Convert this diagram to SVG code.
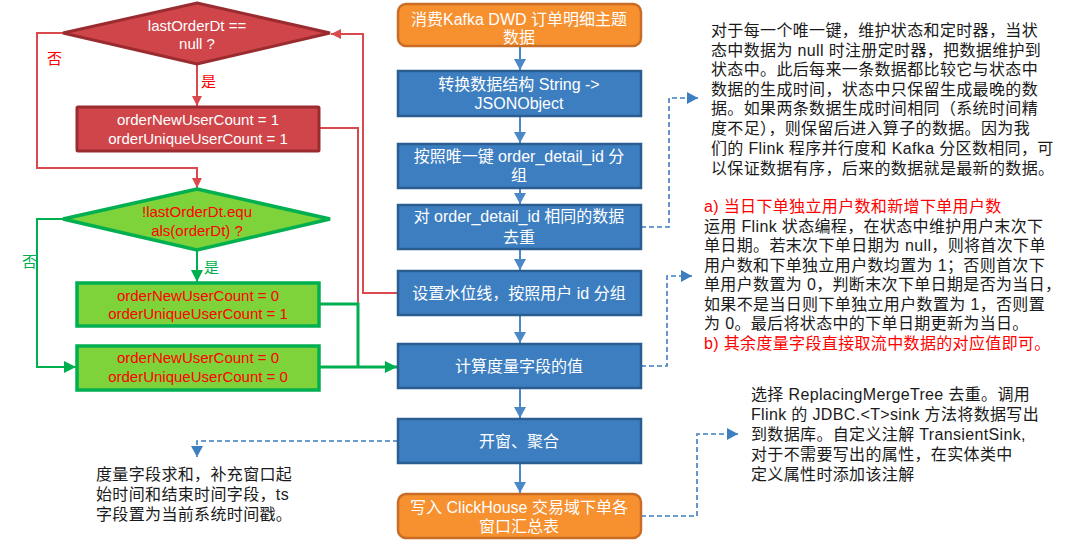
<svg xmlns="http://www.w3.org/2000/svg" width="1078" height="552" viewBox="0 0 1078 552">
<defs>
<style>
text{font-family:"Liberation Sans","Noto Sans CJK SC",sans-serif;}
.wt{fill:#ffffff;font-size:16px;text-anchor:middle;}
.lt{fill:#ffffff;font-size:15px;text-anchor:middle;}
.rt{fill:#ff0000;font-size:15px;text-anchor:middle;}
.bx{fill:#3d7ec0;stroke:#2b5e90;stroke-width:2.5;}
.ob{fill:#f7902f;stroke:#c86c26;stroke-width:2.5;}
.rd{fill:#cf454a;stroke:#9a2c30;stroke-width:3;}
.gr{fill:#7ed23a;stroke:#00b050;stroke-width:3.5;}
.note{fill:#1a1a1a;font-size:16px;letter-spacing:0.35px;}
.red{fill:#ff0000;}
.cr{fill:none;stroke:#d9494e;stroke-width:2;}
.cg{fill:none;stroke:#00b050;stroke-width:2;}
.cb{fill:none;stroke:#4a88c7;stroke-width:2;}
.cd{fill:none;stroke:#3d7ec0;stroke-width:1.6;stroke-dasharray:5,3;}
</style>
<marker id="ar" markerUnits="userSpaceOnUse" markerWidth="12" markerHeight="12" refX="10" refY="5" orient="auto"><path d="M0,0 L10,5 L0,10 z" fill="#d9494e"/></marker>
<marker id="ag" markerUnits="userSpaceOnUse" markerWidth="14" markerHeight="14" refX="12" refY="6" orient="auto"><path d="M0,0 L12,6 L0,12 z" fill="#00b050"/></marker>
<marker id="ab" markerUnits="userSpaceOnUse" markerWidth="14" markerHeight="14" refX="11" refY="6" orient="auto"><path d="M0,0 L11,6 L0,12 z" fill="#4a88c7"/></marker>
<marker id="ad" markerUnits="userSpaceOnUse" markerWidth="14" markerHeight="14" refX="11" refY="6" orient="auto"><path d="M0,0 L11,6 L0,12 z" fill="#3d7ec0"/></marker>
</defs>

<g id="connectors">
<path class="cr" d="M197,64 V106" marker-end="url(#ar)"/>
<path class="cr" d="M63,33 H37 V168 H197 V188" marker-end="url(#ar)"/>
<path class="cr" d="M319,128 H358 V304"/>
<path class="cr" d="M398,293 H363 V34 H331" marker-end="url(#ar)"/>
<path class="cg" d="M197,250 V282" marker-end="url(#ag)"/>
<path class="cg" d="M63,219 H37 V367 H76" marker-end="url(#ag)"/>
<path class="cg" style="stroke-width:3" d="M319,304 H358 V367"/>
<path class="cg" style="stroke-width:3" d="M319,367 H397" marker-end="url(#ag)"/>
<path class="cb" d="M520,46 V70" marker-end="url(#ab)"/>
<path class="cb" d="M520,116 V143" marker-end="url(#ab)"/>
<path class="cb" d="M520,188 V204" marker-end="url(#ab)"/>
<path class="cb" d="M520,249 V270" marker-end="url(#ab)"/>
<path class="cb" d="M520,315 V343" marker-end="url(#ab)"/>
<path class="cb" d="M520,388 V418" marker-end="url(#ab)"/>
<path class="cb" d="M520,463 V493" marker-end="url(#ab)"/>
<path class="cd" d="M641,227 H669 V98 H698" marker-end="url(#ad)"/>
<path class="cd" d="M641,366 H667 V276 H692" marker-end="url(#ad)"/>
<path class="cd" d="M641,516 H697 V434 H738" marker-end="url(#ad)"/>
<path class="cd" d="M398,441 H197 V457" marker-end="url(#ad)"/>
</g>

<g id="cond1">
<polygon class="rd" points="197,3 330,33 197,64 63,33"/>
<text class="lt" x="197" y="31">lastOrderDt ==</text>
<text class="lt" x="197" y="49">null ?</text>
</g>
<g id="label-no1"><text x="47" y="64" style="fill:#ff0000;font-size:15px">否</text></g>
<g id="label-yes1"><text x="201" y="87" style="fill:#ff0000;font-size:15px">是</text></g>

<g id="set1">
<rect class="rd" x="77" y="107" width="242" height="44" rx="1"/>
<text class="lt" x="198" y="125">orderNewUserCount = 1</text>
<text class="lt" x="198" y="144">orderUniqueUserCount = 1</text>
</g>

<g id="cond2">
<polygon class="gr" points="197,189 330,219 197,250 63,219"/>
<text class="rt" x="197" y="217">!lastOrderDt.equ</text>
<text class="rt" x="197" y="236">als(orderDt) ?</text>
</g>
<g id="label-no2"><text x="22" y="267" style="fill:#00b050;font-size:15px">否</text></g>
<g id="label-yes2"><text x="204" y="273" style="fill:#00b050;font-size:15px">是</text></g>

<g id="set2">
<rect class="gr" x="77" y="283" width="242" height="43"/>
<text class="rt" x="198" y="301">orderNewUserCount = 0</text>
<text class="rt" x="198" y="319">orderUniqueUserCount = 1</text>
</g>

<g id="set3">
<rect class="gr" x="77" y="346" width="242" height="44"/>
<text class="rt" x="198" y="363">orderNewUserCount = 0</text>
<text class="rt" x="198" y="382">orderUniqueUserCount = 0</text>
</g>

<g id="step1">
<rect class="ob" x="398" y="4" width="243" height="42" rx="8"/>
<text class="wt" x="519" y="25">消费Kafka DWD 订单明细主题</text>
<text class="wt" x="519" y="43">数据</text>
</g>
<g id="step2">
<rect class="bx" x="398" y="71" width="243" height="45"/>
<text class="wt" x="519" y="90">转换数据结构 String -&gt;</text>
<text class="wt" x="519" y="109">JSONObject</text>
</g>
<g id="step3">
<rect class="bx" x="398" y="144" width="243" height="44"/>
<text class="wt" x="519" y="162">按照唯一键 order_detail_id 分</text>
<text class="wt" x="519" y="181">组</text>
</g>
<g id="step4">
<rect class="bx" x="398" y="205" width="243" height="44"/>
<text class="wt" x="519" y="222">对 order_detail_id 相同的数据</text>
<text class="wt" x="519" y="243">去重</text>
</g>
<g id="step5">
<rect class="bx" x="398" y="271" width="243" height="44"/>
<text class="wt" x="519" y="299">设置水位线，按照用户 id 分组</text>
</g>
<g id="step6">
<rect class="bx" x="398" y="344" width="243" height="44"/>
<text class="wt" x="519" y="372">计算度量字段的值</text>
</g>
<g id="step7">
<rect class="bx" x="398" y="419" width="243" height="44"/>
<text class="wt" x="519" y="447">开窗、聚合</text>
</g>
<g id="step8">
<rect class="ob" x="398" y="494" width="243" height="44" rx="8"/>
<text class="wt" x="519" y="513">写入 ClickHouse 交易域下单各</text>
<text class="wt" x="519" y="532">窗口汇总表</text>
</g>

<g id="note1">
<text class="note" x="711" y="36">对于每一个唯一键，维护状态和定时器，当状</text>
<text class="note" x="711" y="56">态中数据为 null 时注册定时器，把数据维护到</text>
<text class="note" x="711" y="75">状态中。此后每来一条数据都比较它与状态中</text>
<text class="note" x="711" y="95">数据的生成时间，状态中只保留生成最晚的数</text>
<text class="note" x="711" y="114">据。如果两条数据生成时间相同（系统时间精</text>
<text class="note" x="711" y="134">度不足），则保留后进入算子的数据。因为我</text>
<text class="note" x="711" y="154">们的 Flink 程序并行度和 Kafka 分区数相同，可</text>
<text class="note" x="711" y="174">以保证数据有序，后来的数据就是最新的数据。</text>
</g>

<g id="note2">
<text class="note red" x="704" y="212">a)  当日下单独立用户数和新增下单用户数</text>
<text class="note" x="704" y="232">运用 Flink 状态编程，在状态中维护用户末次下</text>
<text class="note" x="704" y="251">单日期。若末次下单日期为 null，则将首次下单</text>
<text class="note" x="704" y="271">用户数和下单独立用户数均置为 1；否则首次下</text>
<text class="note" x="704" y="290">单用户数置为 0，判断末次下单日期是否为当日，</text>
<text class="note" x="704" y="310">如果不是当日则下单独立用户数置为 1，否则置</text>
<text class="note" x="704" y="329">为 0。最后将状态中的下单日期更新为当日。</text>
<text class="note red" x="704" y="349">b)  其余度量字段直接取流中数据的对应值即可。</text>
</g>

<g id="note3">
<text class="note" x="751" y="400">选择 ReplacingMergeTree 去重。调用</text>
<text class="note" x="751" y="420">Flink 的 JDBC.&lt;T&gt;sink 方法将数据写出</text>
<text class="note" x="751" y="440">到数据库。自定义注解 TransientSink,</text>
<text class="note" x="751" y="460">对于不需要写出的属性，在实体类中</text>
<text class="note" x="751" y="480">定义属性时添加该注解</text>
</g>

<g id="note4">
<text class="note" x="96" y="480">度量字段求和，补充窗口起</text>
<text class="note" x="96" y="500">始时间和结束时间字段，ts</text>
<text class="note" x="96" y="520">字段置为当前系统时间戳。</text>
</g>
</svg>
